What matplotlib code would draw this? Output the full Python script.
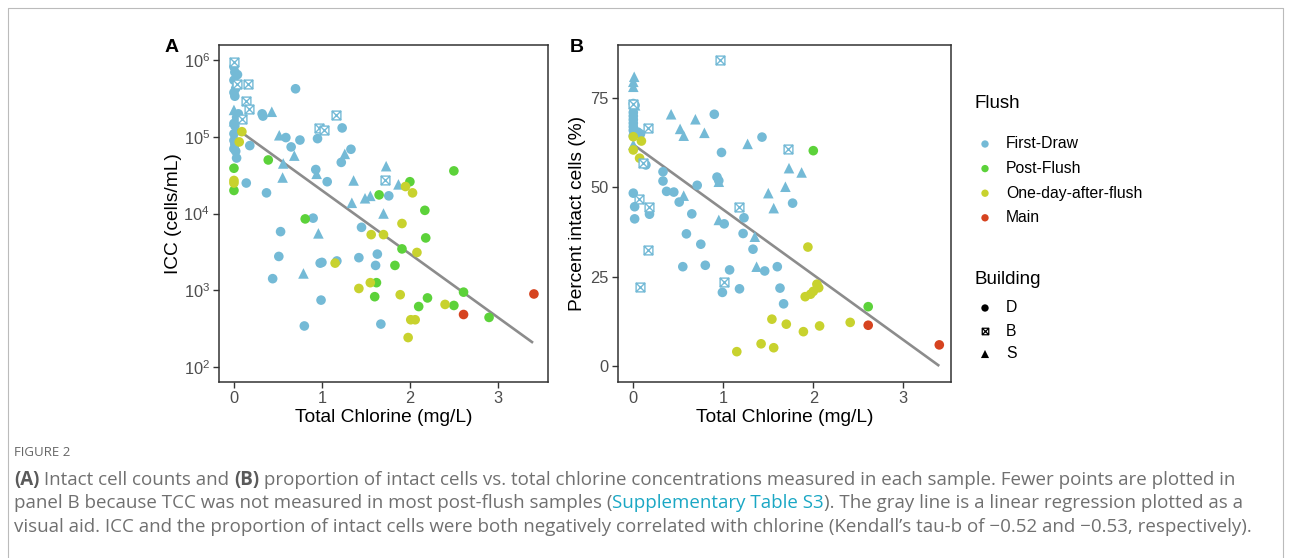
import matplotlib
matplotlib.use("Agg")
import matplotlib.pyplot as plt
import numpy as np
from matplotlib.path import Path

plt.rcParams['font.family'] = ['Liberation Sans', 'DejaVu Sans']
plt.rcParams['mathtext.fontset'] = 'custom'
plt.rcParams['mathtext.rm'] = 'Liberation Sans'
plt.rcParams['mathtext.it'] = 'Liberation Sans:italic'

# colours of the flush groups
flush_names = ['First-Draw', 'Post-Flush', 'One-day-after-flush', 'Main']
flush_cols = ['#74BAD6', '#5CD23A', '#C8D22E', '#D6431F']
bldg_names = ['D', 'B', 'S']

# ---- panel A: ICC (cells/mL) vs total chlorine ----
a_fd_d_x = [0.0, 0.01, 0.04, 0.0, 0.02, 0.0, 0.01, 0.05, 0.03, 0.0, 0.01, 0.0, 0.0, 0.01, 0.0, 0.02, 0.03,
            0.70, 0.32, 0.33, 0.18, 0.14, 0.37, 0.59, 0.65, 0.75, 0.95, 0.93, 1.06, 1.23, 1.33, 1.22,
            0.90, 0.53, 0.51, 0.44, 0.98, 1.00, 1.17, 0.99, 0.80, 1.45, 1.42, 1.63, 1.61, 1.67, 1.76]
a_fd_d_y = [820000, 700000, 650000, 550000, 430000, 380000, 340000, 200000, 180000, 150000, 140000, 110000,
            90000, 80000, 70000, 65000, 53000,
            425000, 200000, 187000, 77000, 25000, 18600, 98000, 74000, 91000, 95000, 37500, 26000, 131000,
            69000, 46500, 8700, 5800, 2750, 1410, 2250, 2300, 2400, 740, 340, 6600, 2650, 2950, 2100, 360, 17000]
a_fd_b_x = [0.0, 0.03, 0.155, 0.14, 0.17, 0.09, 1.16, 0.97, 1.02, 1.72]
a_fd_b_y = [950000, 490000, 490000, 290000, 230000, 170000, 195000, 130000, 122000, 27000]
a_fd_s_x = [0.0, 0.0, 0.01, 0.43, 0.515, 0.56, 0.553, 0.686, 0.94, 0.96, 0.79, 1.26, 1.36, 1.34, 1.49, 1.55,
            1.73, 1.70, 1.87]
a_fd_s_y = [225000, 160000, 78000, 213000, 105000, 45000, 29500, 57000, 33000, 5500, 1650, 60000, 27000,
            13800, 15800, 17000, 41500, 10000, 24000]
a_pf_x = [0.0, 0.0, 0.39, 0.81, 1.65, 2.0, 2.50, 2.17, 2.18, 1.91, 1.83, 1.62, 1.60, 2.20, 2.10, 2.50, 2.61, 2.90]
a_pf_y = [39000, 20000, 50000, 8500, 17500, 26000, 36000, 11000, 4800, 3450, 2100, 1250, 820, 790, 610, 630,
          940, 440]
a_od_x = [0.0, 0.0, 0.09, 0.06, 1.15, 1.56, 1.70, 1.95, 2.03, 1.91, 2.08, 1.42, 1.55, 1.89, 2.01, 2.06, 1.98, 2.40]
a_od_y = [27000, 25000, 117000, 86000, 2250, 5300, 5300, 22500, 18600, 7400, 3100, 1050, 1250, 870, 410, 410,
          240, 650]
a_main_x = [2.61, 3.41]
a_main_y = [480, 890]
a_fit_x = [0.0, 3.4]
a_fit_y = [135000, 205]

# ---- panel B: percent intact cells vs total chlorine ----
b_fd_d_x = [0.0, 0.02, 0.0, 0.0, 0.0, 0.0, 0.0, 0.0, 0.05, 0.08, 0.0,
            0.0, 0.015, 0.015, 0.18, 0.14, 0.33, 0.33, 0.37, 0.45, 0.51, 0.71, 0.65, 0.59, 0.75, 0.55, 0.80,
            0.90, 0.98, 0.93, 0.95, 1.01, 1.07, 0.99, 1.18, 1.23, 1.22, 1.33, 1.43, 1.46, 1.60, 1.63, 1.67, 1.77]
b_fd_d_y = [73.5, 73.0, 71.0, 70.0, 69.0, 68.0, 67.0, 66.0, 65.5, 65.0, 64.5,
            48.4, 44.6, 41.2, 42.5, 56.3, 54.4, 51.8, 48.9, 48.7, 45.9, 50.6, 42.6, 37.0, 34.1, 27.8, 28.2,
            70.5, 59.8, 52.9, 51.9, 39.8, 26.9, 20.6, 21.6, 41.5, 37.1, 32.7, 64.1, 26.6, 27.8, 21.8, 17.4, 45.6]
b_fd_b_x = [0.965, 0.16, 1.72, 0.11, 0.06, 0.17, 1.17, 0.16, 0.07, 1.01, 0.0]
b_fd_b_y = [85.7, 66.6, 60.8, 56.8, 46.7, 44.4, 44.4, 32.5, 22.2, 23.6, 73.5]
b_fd_s_x = [0.01, 0.0, 0.0, 0.02, 0.0, 0.42, 0.69, 0.52, 0.56, 0.79, 1.27, 0.56, 1.50, 1.56, 1.69, 1.73, 1.87,
            0.95, 0.95, 1.35, 1.37]
b_fd_s_y = [81.0, 79.6, 78.2, 73.0, 62.0, 70.5, 69.1, 66.4, 64.5, 65.3, 62.2, 47.7, 48.4, 44.2, 50.2, 55.4,
            54.2, 40.9, 51.6, 36.2, 27.8]
b_pf_x = [2.0, 2.61]
b_pf_y = [60.3, 16.6]
b_od_x = [0.0, 0.0, 0.09, 0.07, 1.94, 1.91, 1.97, 2.0, 2.04, 2.06, 1.54, 1.70, 1.89, 2.07, 2.41, 1.15, 1.42, 1.56]
b_od_y = [64.2, 60.5, 63.0, 58.2, 33.3, 19.4, 20.1, 20.9, 22.9, 21.9, 13.1, 11.7, 9.6, 11.2, 12.2, 4.0, 6.2, 5.1]
b_main_x = [2.61, 3.40]
b_main_y = [11.4, 5.9]
b_fit_x = [0.0, 3.4]
b_fit_y = [62.0, 0.0]

caption_lines = [
    [("(A)", 'bold', '#5A5A5A'), (" Intact cell counts and ", 'normal', '#707070'), ("(B)", 'bold', '#5A5A5A'),
     (" proportion of intact cells vs. total chlorine concentrations measured in each sample. Fewer points are plotted in",
      'normal', '#707070')],
    [("panel B because TCC was not measured in most post-flush samples (", 'normal', '#707070'),
     ("Supplementary Table S3", 'normal', '#1AA7C4'),
     ("). The gray line is a linear regression plotted as a", 'normal', '#707070')],
    [("visual aid. ICC and the proportion of intact cells were both negatively correlated with chlorine (Kendall\u2019s tau-b of \u22120.52 and \u22120.53, respectively).",
      'normal', '#707070')],
]

# square with a cross, like ggplot shape 7
sq_verts = [(-1, -1), (1, -1), (1, 1), (-1, 1), (-1, -1), (-1, -1), (1, 1), (-1, 1), (1, -1)]
sq_codes = [Path.MOVETO, Path.LINETO, Path.LINETO, Path.LINETO, Path.CLOSEPOLY,
            Path.MOVETO, Path.LINETO, Path.MOVETO, Path.LINETO]
sq_marker = Path(sq_verts, sq_codes)

W, H = 1291, 558
fig = plt.figure(figsize=(W / 100, H / 100), dpi=100)

def px_axes(l, t, r, b):
    return fig.add_axes([l / W, 1 - b / H, (r - l) / W, (b - t) / H])

def style(ax):
    for s in ax.spines.values():
        s.set_color('#333333')
        s.set_linewidth(1.1)
    ax.tick_params(direction='out', length=4, width=1, color='#333333', labelcolor='#4D4D4D',
                   labelsize=11.8, pad=2.5)

def draw_points(ax, groups, fit_x, fit_y):
    ax.plot(fit_x, fit_y, color='#8C8C8C', lw=1.9, zorder=2, solid_capstyle='butt')
    for (x, y, col, shp) in groups:
        if shp == 'o':
            ax.scatter(x, y, s=48, color=col, edgecolors='none', zorder=3)
        elif shp == '^':
            ax.scatter(x, y, s=58, marker='^', color=col, edgecolors='none', zorder=3)
        else:
            ax.scatter(x, y, s=40, marker=sq_marker, facecolors='white', edgecolors=col,
                       linewidths=1.0, zorder=4)

# panel A
axA = px_axes(219, 45, 548, 382)
draw_points(axA, [
    (a_fd_d_x, a_fd_d_y, flush_cols[0], 'o'),
    (a_fd_s_x, a_fd_s_y, flush_cols[0], '^'),
    (a_pf_x, a_pf_y, flush_cols[1], 'o'),
    (a_od_x, a_od_y, flush_cols[2], 'o'),
    (a_main_x, a_main_y, flush_cols[3], 'o'),
    (a_fd_b_x, a_fd_b_y, flush_cols[0], 's'),
], a_fit_x, a_fit_y)
axA.set_yscale('log')
axA.set_ylim(10 ** 1.8, 10 ** 6.2)
axA.set_xlim(-0.17, 3.57)
axA.set_yticks([1e2, 1e3, 1e4, 1e5, 1e6])
axA.set_yticklabels([r'$10^{%d}$' % k for k in range(2, 7)])
axA.minorticks_off()
axA.set_xticks([0, 1, 2, 3])
axA.set_xlabel('Total Chlorine (mg/L)', fontsize=13.8, labelpad=2)
axA.set_ylabel('ICC (cells/mL)', fontsize=13.8, labelpad=1)
style(axA)

# panel B
axB = px_axes(618, 45, 951, 382)
draw_points(axB, [
    (b_fd_d_x, b_fd_d_y, flush_cols[0], 'o'),
    (b_fd_s_x, b_fd_s_y, flush_cols[0], '^'),
    (b_pf_x, b_pf_y, flush_cols[1], 'o'),
    (b_od_x, b_od_y, flush_cols[2], 'o'),
    (b_main_x, b_main_y, flush_cols[3], 'o'),
    (b_fd_b_x, b_fd_b_y, flush_cols[0], 's'),
], b_fit_x, b_fit_y)
axB.set_ylim(-4.5, 89.9)
axB.set_xlim(-0.17, 3.53)
axB.set_yticks([0, 25, 50, 75])
axB.set_xticks([0, 1, 2, 3])
axB.set_xlabel('Total Chlorine (mg/L)', fontsize=13.8, labelpad=2)
axB.set_ylabel('Percent intact cells (%)', fontsize=13.8, labelpad=3)
style(axB)

# overlay in pixel coordinates for legend, letters, caption, frame
ov = fig.add_axes([0, 0, 1, 1])
ov.set_xlim(0, W)
ov.set_ylim(H, 0)
ov.axis('off')

ov.plot([8, 8, 1283, 1283], [H, 8, 8, H], color='#BBBBBB', lw=0.8)

ov.text(172, 48, 'A', fontsize=14, fontweight='bold', ha='center', va='center')
ov.text(577, 48, 'B', fontsize=14, fontweight='bold', ha='center', va='center')

ov.text(975, 103, 'Flush', fontsize=13.5, va='center', ha='left')
for i, (nm, col) in enumerate(zip(flush_names, flush_cols)):
    yy = 144 + i * 24.6
    ov.scatter([985], [yy], s=28, color=col, edgecolors='none')
    ov.text(1006, yy, nm, fontsize=11.3, va='center', ha='left')
ov.text(975, 279, 'Building', fontsize=13.5, va='center', ha='left')
bl_marks = ['o', sq_marker, '^']
for i, (nm, mk) in enumerate(zip(bldg_names, bl_marks)):
    yy = 308 + i * 23
    if i == 1:
        ov.scatter([985], [yy], s=22, marker=mk, facecolors='white', edgecolors='black', linewidths=0.9)
    else:
        ov.scatter([985], [yy], s=28 if i == 0 else 34, marker=mk, color='black', edgecolors='none')
    ov.text(1006, yy, nm, fontsize=11.3, va='center', ha='left')

ov.text(14, 452, 'FIGURE 2', fontsize=9.5, color='#666666', va='center', ha='left', family='Open Sans')

fig.canvas.draw()
rend = fig.canvas.get_renderer()
for li, segs in enumerate(caption_lines):
    x = 14
    yy = 480 + li * 23.5
    for (txt, wt, col) in segs:
        t = ov.text(x, yy, txt, fontsize=13.5, fontweight=wt, color=col, va='center', ha='left',
                    family='Open Sans')
        bb = t.get_window_extent(rend)
        x = bb.x1

fig.savefig('out.png', dpi=100)
